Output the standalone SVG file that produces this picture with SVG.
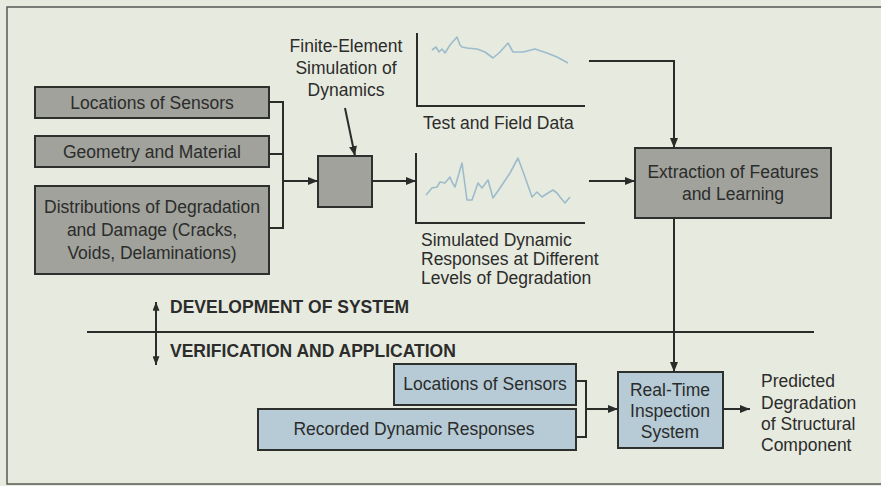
<svg xmlns="http://www.w3.org/2000/svg" width="881" height="486" viewBox="0 0 881 486">
<defs>
<marker id="ah" viewBox="0 0 10 8" refX="10" refY="4" markerWidth="10" markerHeight="8" markerUnits="userSpaceOnUse" orient="auto">
<path d="M0,0 L10,4 L0,8 Z" fill="#2a2c2a"/>
</marker>
<marker id="ahs" viewBox="0 0 10 8" refX="10" refY="4" markerWidth="9" markerHeight="7" markerUnits="userSpaceOnUse" orient="auto-start-reverse">
<path d="M0,0 L10,4 L0,8 Z" fill="#2a2c2a"/>
</marker>
</defs>
<style>
text{font-family:"Liberation Sans",Arial,sans-serif;font-size:17.5px;fill:#2b2c2b}
.c{text-anchor:middle}
.b{font-weight:bold}
.gray{fill:#a0a29b;stroke:#2e302d;stroke-width:2}
.blue{fill:#b6cbd6;stroke:#2e302d;stroke-width:2}
.ln{fill:none;stroke:#2a2c2a;stroke-width:2}
.sq{fill:none;stroke:#9dbccb;stroke-width:1.6;stroke-linejoin:round}
</style>
<rect x="0" y="0" width="881" height="486" fill="#e7eadf"/>
<rect x="7" y="7" width="900" height="477" fill="none" stroke="#555a55" stroke-width="1.5"/>

<g id="charts">
<path class="ln" d="M417,33 V106 H585"/>
<polyline class="sq" points="432,50 436,47 439,52 442,49 445,53 450,45 457,37 460,45 462,47 467,48 477,49 485,52 493,58 500,52 508,43 513,52 523,52 535,49 547,53 557,57 568,63"/>
<text x="423" y="129">Test and Field Data</text>
<path class="ln" d="M416,153 V223 H585"/>
<polyline class="sq" points="426,195 432,188 437,187 440,182 445,183 450,177 452,182 455,187 462,163 467,200 472,200 478,183 482,188 488,180 493,198 500,188 510,173 518,158 525,177 532,197 537,192 542,197 548,193 553,190 557,193 560,197 565,203 570,197"/>
<text x="421" y="246">Simulated Dynamic</text>
<text x="421" y="265">Responses at Different</text>
<text x="421" y="284">Levels of Degradation</text>
</g>

<g id="n-locations">
<rect class="gray" x="35" y="87" width="234" height="31"/>
<text class="c" x="152" y="109">Locations of Sensors</text>
</g>
<g id="n-geometry">
<rect class="gray" x="35" y="136" width="234" height="31"/>
<text class="c" x="152" y="158">Geometry and Material</text>
</g>
<g id="n-distributions">
<rect class="gray" x="35" y="186" width="234" height="88"/>
<text class="c" x="152" y="213">Distributions of Degradation</text>
<text class="c" x="152" y="236">and Damage (Cracks,</text>
<text class="c" x="152" y="259">Voids, Delaminations)</text>
</g>
<g id="n-fe">
<rect class="gray" x="318" y="156" width="54" height="51"/>
</g>
<g id="n-fe-label">
<text class="c" x="346" y="52">Finite-Element</text>
<text class="c" x="346" y="74">Simulation of</text>
<text class="c" x="346" y="96">Dynamics</text>
</g>
<g id="n-extraction">
<rect class="gray" x="635" y="148" width="196" height="70"/>
<text class="c" x="733" y="178">Extraction of Features</text>
<text class="c" x="733" y="200">and Learning</text>
</g>
<g id="n-loc2">
<rect class="blue" x="394" y="364" width="182" height="41"/>
<text class="c" x="485" y="390">Locations of Sensors</text>
</g>
<g id="n-recorded">
<rect class="blue" x="258" y="409" width="318" height="41"/>
<text class="c" x="414" y="435">Recorded Dynamic Responses</text>
</g>
<g id="n-realtime">
<rect class="blue" x="618" y="372" width="105" height="76"/>
<text class="c" x="670" y="396">Real-Time</text>
<text class="c" x="670" y="417">Inspection</text>
<text class="c" x="670" y="438">System</text>
</g>
<g id="n-predicted">
<text x="761" y="387">Predicted</text>
<text x="761" y="409">Degradation</text>
<text x="761" y="430">of Structural</text>
<text x="761" y="451">Component</text>
</g>
<g id="n-phases">
<text class="b" x="170" y="313">DEVELOPMENT OF SYSTEM</text>
<text class="b" x="170" y="357">VERIFICATION AND APPLICATION</text>
</g>

<g id="connectors">
<path class="ln" d="M269,102 H283 V228 H269 M269,154 H283"/>
<path class="ln" d="M283,181 H318" marker-end="url(#ah)"/>
<path class="ln" d="M345,108 L355,156" marker-end="url(#ah)"/>
<path class="ln" d="M372,181 H416" marker-end="url(#ah)"/>
<path class="ln" d="M589,61 H674 V148" marker-end="url(#ah)"/>
<path class="ln" d="M589,181 H635" marker-end="url(#ah)"/>
<path class="ln" d="M674,218 V372" marker-end="url(#ah)"/>
<path class="ln" d="M87,332 H814"/>
<path class="ln" d="M156,302 V365" marker-start="url(#ahs)" marker-end="url(#ahs)"/>
<path class="ln" d="M576,381 H586 V437 H576"/>
<path class="ln" d="M586,409 H618" marker-end="url(#ah)"/>
<path class="ln" d="M723,409 H750" marker-end="url(#ah)"/>
</g>
</svg>
